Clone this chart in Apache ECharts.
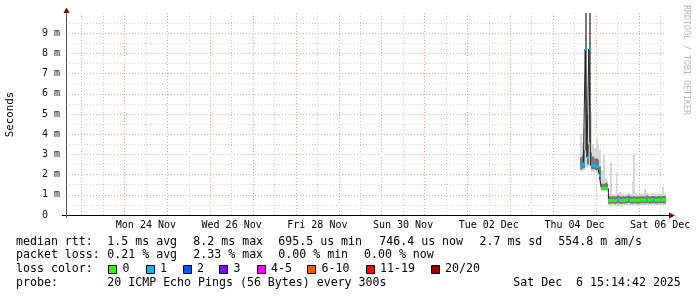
<!DOCTYPE html>
<html><head><meta charset="utf-8">
<script src="https://cdn.jsdelivr.net/npm/echarts@6/dist/echarts.min.js"></script>
<style>html,body{margin:0;padding:0;background:#fff}#c{width:697px;height:297px}</style>
</head><body><div id="c"></div>
<script>
// x values: hours since Sat 22 Nov 2025 00:00 (start of each 1-hour sample)
const sampleHours = [303,304,305,306,307,308,309,310,311,312,313,314,315,316,317,318,
  319,320,321,322,323,324,325,326,327,328,329,330,331,332,333,334,
  335,336,337,338,339,340,341,342,343,344,345,346,347,348,349,350];
// median round trip time, ms
const medianMs = [2.40,2.48,2.52,8.22,2.85,8.22,2.45,2.45,2.43,2.40,2.33,1.95,1.32,1.32,1.33,1.31,
  0.73,0.72,0.74,0.70,0.72,0.75,0.73,0.72,0.74,0.73,0.74,0.76,0.73,0.72,0.74,0.73,
  0.72,0.73,0.75,0.74,0.73,0.76,0.74,0.73,0.75,0.74,0.73,0.74,0.75,0.74,0.75,0.746];
// lost pings out of 20
const lossCount = [1,1,1,1,1,1,1,1,1,1,1,1,0,0,0,0,
  0,0,0,0,0,1,0,0,0,0,0,1,0,0,0,0,
  0,0,0,0,0,1,0,0,0,1,0,0,0,0,0,0];
// smoke: spread of the 20 pings, ms
const smokeMin = [2.15,2.15,2.20,2.35,2.35,2.45,2.15,2.15,2.15,2.10,2.05,1.65,1.18,1.18,1.18,1.16,
  0.48,0.47,0.49,0.46,0.48,0.49,0.48,0.47,0.49,0.48,0.48,0.50,0.48,0.47,0.49,0.48,
  0.47,0.48,0.49,0.49,0.48,0.50,0.49,0.48,0.49,0.49,0.48,0.49,0.49,0.49,0.49,0.49];
const smokeLow = [2.25,2.28,2.32,3.20,2.50,3.60,2.28,2.28,2.25,2.22,2.15,1.78,1.24,1.24,1.25,1.23,
  0.57,0.56,0.58,0.55,0.57,0.58,0.57,0.56,0.58,0.57,0.58,0.59,0.57,0.56,0.58,0.57,
  0.56,0.57,0.58,0.58,0.57,0.59,0.58,0.57,0.58,0.58,0.57,0.58,0.58,0.58,0.58,0.58];
const smokeHigh = [2.85,3.00,3.20,10.5,3.50,10.5,3.10,2.90,2.80,2.80,2.75,2.40,1.55,1.55,1.60,1.55,
  0.94,0.92,0.93,0.91,0.92,0.96,0.92,0.91,0.93,0.92,0.93,0.96,0.92,0.92,0.94,0.92,
  0.91,0.92,0.94,0.93,0.92,0.96,0.93,0.92,0.94,0.94,0.92,0.93,0.94,0.93,0.94,0.94];
const smokeMax = [4.00,3.60,4.30,10.5,5.00,10.5,5.10,3.50,3.30,3.80,3.50,3.20,2.20,3.00,1.80,1.70,
  1.08,2.60,1.04,1.02,2.10,1.08,1.15,1.04,1.06,1.02,1.04,1.10,1.04,1.65,3.00,1.06,
  1.02,1.04,1.08,1.04,1.27,1.10,1.04,1.02,1.06,1.08,1.04,1.04,1.06,1.04,1.40,1.06];

const xTickHours = [60,108,156,204,252,300,348];
const xTickLabels = ['Mon 24 Nov','Wed 26 Nov','Fri 28 Nov','Sun 30 Nov','Tue 02 Dec','Thu 04 Dec','Sat 06 Dec'];
const yTickValues = [0,1,2,3,4,5,6,7,8,9];
const yTickLabels = ['0  ','1 m','2 m','3 m','4 m','5 m','6 m','7 m','8 m','9 m'];
const lossLegend = ['0','1','2','3','4-5','6-10','11-19','20/20'];
const lossColors = ['#26ff00','#00b8ff','#0059ff','#7e00ff','#ff00ff','#ff5500','#ff0000','#a10000'];
const statsRtt = ['1.5 ms avg','8.2 ms max','695.5 us min','746.4 us now','2.7 ms sd','554.8 m am/s'];
const statsLoss = ['0.21 % avg','2.33 % max','0.00 % min','0.00 % now'];
const probeText = '20 ICMP Echo Pings (56 Bytes) every 300s';
const stampText = 'Sat Dec  6 15:14:42 2025';

const stepHours = 1;
const xMin = 15 + 14/60 + 42/3600;      // 22 Nov 15:14:42
const xMax = xMin + 14*24;              // 6 Dec 15:14:42

const midnights = [], noons = [];
for (let d = 1; d <= 14; d++) midnights.push(d*24);
for (let d = 1; d <= 14; d++) noons.push(d*24 + 12);
const halfTicks = yTickValues.map(v => v + 0.5);

function lossIndex(n){
  if (n <= 3) return n;
  if (n <= 5) return 4;
  if (n <= 10) return 5;
  if (n <= 19) return 6;
  return 7;
}

const MONO = '"DejaVu Sans Mono", monospace';
const smokeData = sampleHours.map((h,i)=>[h, smokeMin[i], smokeLow[i], smokeHigh[i], smokeMax[i]]);
const bandData = sampleHours.map((h,i)=>[h, medianMs[i], lossCount[i]]);
const lineData = sampleHours.map((h,i)=>[h, medianMs[i]]);
lineData.push([sampleHours[sampleHours.length-1] + stepHours, medianMs[medianMs.length-1]]);

const graphics = [];
// axes with arrows
graphics.push({type:'line', shape:{x1:62, y1:215.5, x2:670, y2:215.5}, style:{stroke:'#000', lineWidth:1}, silent:true, z:10});
graphics.push({type:'line', shape:{x1:66.5, y1:218, x2:66.5, y2:12}, style:{stroke:'#555', lineWidth:1}, silent:true, z:10});
graphics.push({type:'polygon', shape:{points:[[669,212.5],[675,215.5],[669,218.5]]}, style:{fill:'#7f0000'}, silent:true});
graphics.push({type:'polygon', shape:{points:[[63.5,13],[66.5,7.5],[69.5,13]]}, style:{fill:'#7f0000'}, silent:true});
// titles
graphics.push({type:'text', x:10.5, y:114.5, rotation:Math.PI/2, style:{text:'Seconds', font:'10.8px '+MONO, fill:'#000', align:'center', verticalAlign:'middle'}});
graphics.push({type:'text', x:686.5, y:60, rotation:-Math.PI/2, style:{text:'RRDTOOL / TOBI OETIKER', font:'8.3px '+MONO, fill:'#b8b8b8', align:'center', verticalAlign:'middle'}});
// legend rows
const FONT = '11.6px ' + MONO;
function txt(s, x, y){ graphics.push({type:'text', x:x, y:y, style:{text:s, font:FONT, fill:'#000', align:'left', verticalAlign:'middle'}}); }
const rowY = [241.5, 255.2, 269, 282.7];
txt('median rtt:', 16, rowY[0]);
[107.3,193.3,278.3,379.3,479.5,558.3].forEach((x,k)=>txt(statsRtt[k], x, rowY[0]));
txt('packet loss:', 16, rowY[1]);
[107.3,193.3,278.3,364].forEach((x,k)=>txt(statsLoss[k], x, rowY[1]));
txt('loss color:', 16, rowY[2]);
[108.3,145.7,182.7,219.3,256.7,307.3,365.7,430.7].forEach((x,k)=>{
  graphics.push({type:'rect', shape:{x:Math.round(x)+0.5, y:265.5, width:8, height:8}, style:{fill:lossColors[k], stroke:'#000', lineWidth:1}});
  txt(lossLegend[k], x + 14.3, rowY[2]);
});
txt('probe:', 16, rowY[3]);
txt(probeText, 107.3, rowY[3]);
txt(stampText, 513.3, rowY[3]);

const RED = '#e6a6a6', GRAY = '#cccccc';
const chart = echarts.init(document.getElementById('c'), null, {renderer:'canvas'});
const common = {type:'value', min:xMin, max:xMax, gridIndex:0, axisLine:{show:false}, axisLabel:{show:false}};
chart.setOption({
  backgroundColor:'#fff',
  animation:false,
  grid:{left:66, top:13, width:600, height:202},
  xAxis:[
    Object.assign({}, common, {position:'bottom',
      axisTick:{show:false, customValues:xTickHours},
      axisLabel:{show:true, customValues:xTickHours, margin:5, fontFamily:MONO, fontSize:10, color:'#000',
        formatter:v=>{const k=xTickHours.indexOf(v); return k>=0?xTickLabels[k]:'';}},
      splitLine:{show:false}}),
    Object.assign({}, common, {position:'bottom',
      axisTick:{show:false, customValues:midnights},
      splitLine:{show:true, lineStyle:{color:RED, width:1, type:[1,2]}}}),
    Object.assign({}, common, {position:'bottom',
      axisTick:{show:false, customValues:noons},
      splitLine:{show:true, lineStyle:{color:GRAY, width:1, type:[1,2]}}})
  ],
  yAxis:[
    {type:'value', min:0, max:10, position:'left', axisLine:{show:false},
      axisTick:{show:false, customValues:yTickValues},
      axisLabel:{customValues:yTickValues, margin:6, fontFamily:MONO, fontSize:10, color:'#111',
        formatter:v=>{const k=yTickValues.indexOf(v); return k>=0?yTickLabels[k]:'';}},
      splitLine:{show:true, lineStyle:{color:RED, width:1, type:[1,2]}}},
    {type:'value', min:0, max:10, position:'left', axisLine:{show:false},
      axisTick:{show:false, customValues:halfTicks}, axisLabel:{show:false},
      splitLine:{show:true, lineStyle:{color:GRAY, width:1, type:[1,2]}}}
  ],
  series:[
    {type:'custom', name:'smoke', xAxisIndex:0, yAxisIndex:0, clip:true, z:2, data:smokeData,
      renderItem:(params, api)=>{
        const t = api.value(0);
        const x0 = Math.round(api.coord([t, 0])[0]);
        const x1 = Math.round(api.coord([t + stepHours, 0])[0]);
        const yMin = api.coord([t, api.value(1)])[1];
        const yLo = api.coord([t, api.value(2)])[1];
        const yHi = api.coord([t, api.value(3)])[1];
        const yMax = api.coord([t, api.value(4)])[1];
        return {type:'group', children:[
          {type:'rect', shape:{x:x0, y:yMax, width:x1-x0, height:yMin-yMax}, style:{fill:'#d6d6d6'}},
          {type:'rect', shape:{x:x0, y:yHi, width:x1-x0, height:yLo-yHi}, style:{fill:'#777777'}}
        ]};
      }},
    {type:'line', name:'median', xAxisIndex:0, yAxisIndex:0, step:'end', symbol:'none', z:3,
      data:lineData, lineStyle:{color:'#202020', width:1}},
    {type:'custom', name:'loss', xAxisIndex:0, yAxisIndex:0, clip:true, z:4, data:bandData,
      renderItem:(params, api)=>{
        const t = api.value(0);
        const x0 = Math.round(api.coord([t, 0])[0]);
        const x1 = Math.round(api.coord([t + stepHours, 0])[0]);
        const y = api.coord([t, api.value(1)])[1];
        return {type:'rect', shape:{x:x0, y:y-1.5, width:x1-x0, height:3},
          style:{fill:lossColors[lossIndex(api.value(2))]}};
      }}
  ],
  graphic:graphics
});
</script></body></html>
